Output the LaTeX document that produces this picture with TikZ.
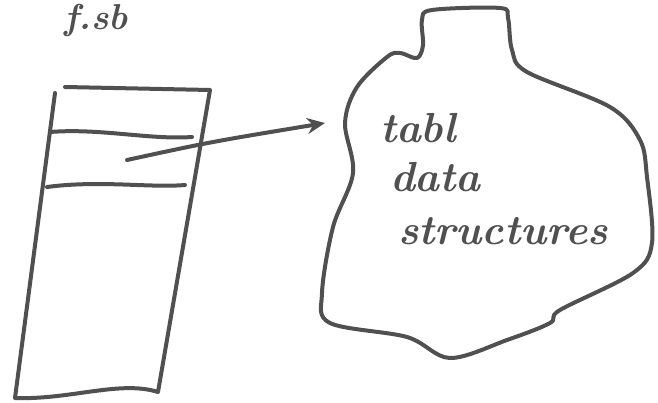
\documentclass[tikz,border=0pt]{standalone}
\usepackage{tikz}
\usetikzlibrary{arrows.meta, positioning}
\definecolor{pen}{HTML}{505050}

\begin{document}
\begin{tikzpicture}[x=1pt, y=-1pt, line width=4pt, draw=pen, line cap=round, line join=round,
    hand/.style={text=pen, font=\fontsize{42}{46}\selectfont\bfseries\itshape, inner sep=0pt, anchor=base west}]
    \path[use as bounding box, clip] (0,0) rectangle (658,403);

    % Title
    \node[hand, font=\fontsize{36}{38}\selectfont\bfseries\itshape] (title) at (62,30) {f.sb};

    % Table
    \draw[pen] (65,87) -- (210,90) -- (158,392) .. controls (120,380) and (70,400) .. (15,398) -- (55,93);
    \draw[pen] (50,132) .. controls (100,128) and (150,140) .. (192,137);
    \draw[pen] (47,187) .. controls (100,180) and (150,188) .. (185,185);

    % Pointer
    \coordinate (slot) at (127,160);
    \coordinate (tip) at (325,123);
    \draw[pen, -{Stealth[length=18pt, width=16pt, inset=6pt]}] (slot) .. controls (210,142) .. (tip);

    % Blob
    \draw[pen] plot[smooth cycle, tension=0.55] coordinates {
        (422,20) (432,10) (500,8) (508,18) (512,50) (527,72) (610,107) (640,140) (647,177)
        (652,243) (633,273) (560,310) (550,323) (507,340) (450,358) (407,337) (330,323)
        (322,293) (333,227) (353,173) (345,123) (357,87) (387,57) (400,53) (417,58) (423,45)};

    % Blob text
    \node[hand] (tabl) at (378,143) {tabl};
    \node[hand] (data) at (388,192) {data};
    \node[hand] (struct) at (396,245) {structures};
\end{tikzpicture}
\end{document}
